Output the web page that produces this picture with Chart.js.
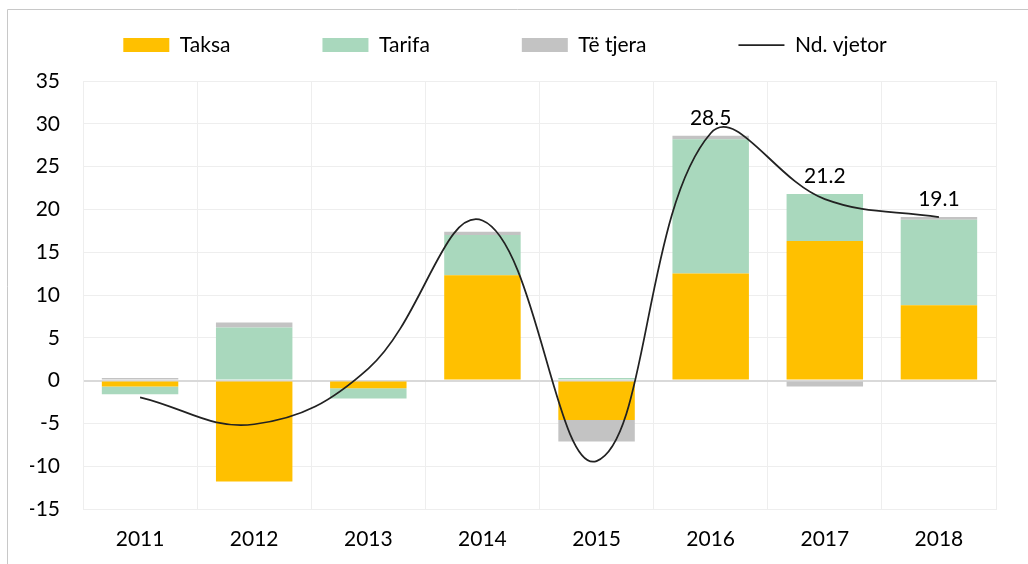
<!DOCTYPE html>
<html>
<head>
<meta charset="utf-8">
<script src="https://cdn.jsdelivr.net/npm/chart.js@4"></script>
<style>
  html, body { margin: 0; padding: 0; background: #fff; }
  #wrap { width: 1028px; height: 564px; }
</style>
</head>
<body>
<div id="wrap"><canvas id="chart"></canvas></div>
<script>
const years = ['2011', '2012', '2013', '2014', '2015', '2016', '2017', '2018'];
const taksa = [-0.7, -11.8, -0.9, 12.3, -4.6, 12.5, 16.3, 8.8];
const tarifa = [-0.9, 6.2, -1.2, 4.7, 0.3, 15.7, 5.5, 10.0];
const teTjera = [0.3, 0.6, 0.0, 0.4, -2.5, 0.4, -0.7, 0.3];
const ndVjetor = [-1.95, -5.1, 1.4, 18.7, -9.4, 28.9, 21.2, 19.1];
const totalLabels = [null, null, null, null, null, 28.5, 21.2, 19.1];
const yTicks = [-15, -10, -5, 0, 5, 10, 15, 20, 25, 30, 35];

const FONT = 'Lato, "Liberation Sans", sans-serif';
Chart.defaults.font.family = FONT;
Chart.defaults.font.size = 21;
Chart.defaults.color = '#000';

// outer frame of the chart object (top and left edges visible)
const framePlugin = {
  id: 'frame',
  beforeDraw(chart) {
    const ctx = chart.ctx;
    ctx.save();
    ctx.strokeStyle = '#c8c8c8';
    ctx.lineWidth = 1;
    ctx.beginPath();
    ctx.moveTo(7.5, chart.height);
    ctx.lineTo(7.5, 9.5);
    ctx.lineTo(chart.width, 9.5);
    ctx.stroke();
    ctx.restore();
  }
};

// move the legend row up to where the reference has it (keep bottom so clip box covers it)
const legendShift = {
  id: 'legendShift',
  afterLayout(chart) {
    const lg = chart.legend;
    const pad = lg.options.labels.padding;
    lg.top = 45 - pad - 10.5;
    lg.left -= 8;
    lg.right -= 8;
  }
};

// totals above the stacks
const totalsPlugin = {
  id: 'totals',
  afterDatasetsDraw(chart) {
    const ctx = chart.ctx;
    const x = chart.scales.x;
    const y = chart.scales.y;
    ctx.save();
    ctx.font = '21px ' + FONT;
    ctx.fillStyle = '#000';
    ctx.textAlign = 'center';
    ctx.textBaseline = 'middle';
    totalLabels.forEach((v, i) => {
      if (v === null) return;
      const top = [taksa[i], tarifa[i], teTjera[i]].filter(n => n > 0).reduce((a, b) => a + b, 0);
      ctx.fillText(v.toFixed(1), x.getPixelForValue(i), y.getPixelForValue(top) - 18);
    });
    ctx.restore();
  }
};

const ctx = document.getElementById('chart').getContext('2d');
new Chart(ctx, {
  type: 'bar',
  data: {
    labels: years,
    datasets: [
      {
        type: 'line',
        label: 'Nd. vjetor',
        data: ndVjetor,
        borderColor: '#222',
        borderWidth: 1.75,
        backgroundColor: '#222',
        pointRadius: 0,
        pointStyle: 'line',
        tension: 0.4,
        fill: false,
        order: 0
      },
      {
        label: 'Taksa',
        data: taksa,
        backgroundColor: '#FFC000',
        pointStyle: 'rect',
        order: 1
      },
      {
        label: 'Tarifa',
        data: tarifa,
        backgroundColor: '#A9D8BD',
        pointStyle: 'rect',
        order: 1
      },
      {
        label: 'Të tjera',
        data: teTjera,
        backgroundColor: '#C3C3C3',
        pointStyle: 'rect',
        order: 1
      }
    ]
  },
  options: {
    responsive: true,
    maintainAspectRatio: false,
    animation: false,
    layout: {
      padding: { left: 30, right: 32, top: 21, bottom: 12 }
    },
    datasets: {
      bar: {
        barPercentage: 0.67,
        categoryPercentage: 1,
        borderWidth: 0
      }
    },
    plugins: {
      legend: {
        position: 'top',
        maxHeight: 60,
        labels: {
          usePointStyle: true,
          pointStyleWidth: 46,
          boxWidth: 46,
          boxHeight: 14,
          padding: 92,
          color: '#000',
          font: { size: 21 },
          generateLabels(chart) {
            const items = Chart.defaults.plugins.legend.labels.generateLabels(chart);
            const order = ['Taksa', 'Tarifa', 'Të tjera', 'Nd. vjetor'];
            items.forEach(it => {
              const ds = chart.data.datasets[it.datasetIndex];
              it.pointStyle = ds.type === 'line' ? 'line' : 'rect';
              if (ds.type !== 'line') it.lineWidth = 0;
            });
            return items.sort((a, b) => order.indexOf(a.text) - order.indexOf(b.text));
          }
        }
      },
      tooltip: { enabled: false }
    },
    scales: {
      x: {
        stacked: true,
        afterFit(scale) { scale.height = 43; },
        grid: {
          offset: true,
          color: '#eeeeee',
          drawTicks: false
        },
        border: { color: '#eeeeee' },
        ticks: { padding: 18, color: '#000' }
      },
      y: {
        stacked: true,
        min: -15,
        max: 35,
        afterFit(scale) { scale.width = 53; },
        afterBuildTicks(axis) {
          axis.ticks = yTicks.map(v => ({ value: v }));
        },
        grid: {
          color: c => (c.tick && c.tick.value === 0 ? '#d9d9d9' : '#eeeeee'),
          lineWidth: c => (c.tick && c.tick.value === 0 ? 2 : 1),
          drawTicks: false
        },
        border: { color: '#eeeeee' },
        ticks: { padding: 23, color: '#000' }
      }
    }
  },
  plugins: [framePlugin, legendShift, totalsPlugin]
});
</script>
</body>
</html>
